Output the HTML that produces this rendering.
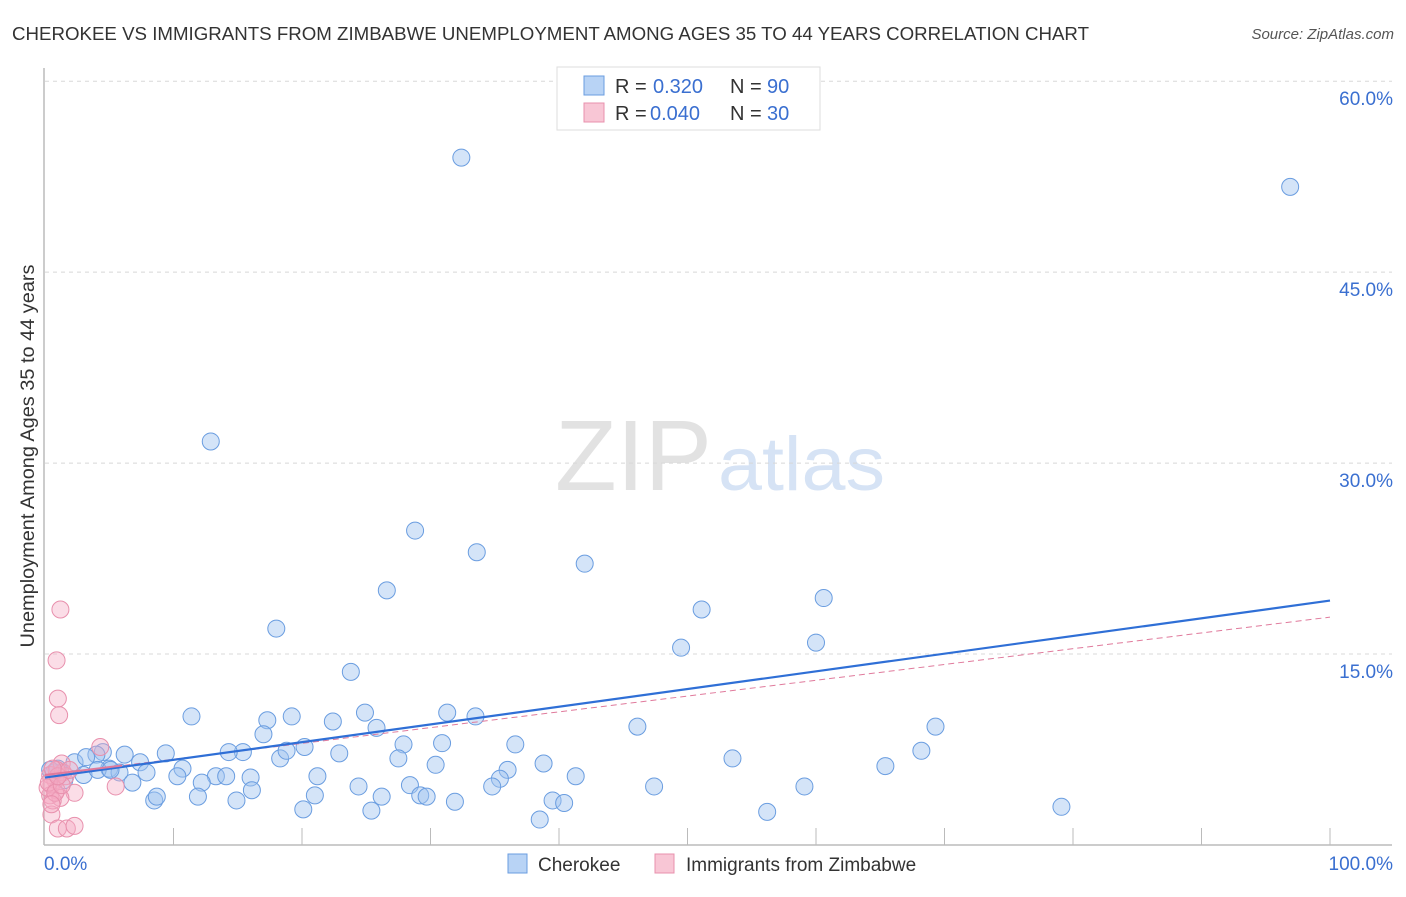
<!DOCTYPE html>
<html><head><meta charset="utf-8"><style>
body{margin:0;background:#fff;font-family:"Liberation Sans",sans-serif;}
svg text{font-family:"Liberation Sans",sans-serif;}
</style></head><body>
<svg width="1406" height="892" xmlns="http://www.w3.org/2000/svg">
<text x="12" y="40" font-size="18.5" fill="#333" textLength="1077" lengthAdjust="spacingAndGlyphs">CHEROKEE VS IMMIGRANTS FROM ZIMBABWE UNEMPLOYMENT AMONG AGES 35 TO 44 YEARS CORRELATION CHART</text>
<text x="1394" y="39" font-size="15" fill="#555" font-style="italic" text-anchor="end">Source: ZipAtlas.com</text>
<g>
<text x="555" y="490" font-size="100" fill="#e2e2e2" font-family="Liberation Serif" textLength="157" lengthAdjust="spacingAndGlyphs">ZIP</text>
<text x="718" y="490" font-size="76" fill="#d6e3f5" textLength="167" lengthAdjust="spacingAndGlyphs">atlas</text>
</g>
<g id="grid"></g>
<g id="axes"></g>
<g id="pts"></g>
<g id="trend"></g>
<text transform="translate(34,456) rotate(-90)" font-size="19" fill="#333" text-anchor="middle" textLength="383" lengthAdjust="spacingAndGlyphs">Unemployment Among Ages 35 to 44 years</text>
<g>
<rect x="557" y="67" width="263" height="63" fill="#fff" stroke="#ddd"/>
<rect x="584" y="76" width="20" height="19" fill="#b8d3f5" stroke="#6a9de0"/>
<text x="615" y="93" font-size="20" fill="#333">R =</text>
<text x="653" y="93" font-size="20" fill="#3a6fd0">0.320</text>
<text x="730" y="93" font-size="20" fill="#333">N =</text>
<text x="767" y="93" font-size="20" fill="#3a6fd0">90</text>
<rect x="584" y="103" width="20" height="19" fill="#f8c6d5" stroke="#e890ad"/>
<text x="615" y="120" font-size="20" fill="#333">R =</text>
<text x="650" y="120" font-size="20" fill="#3a6fd0">0.040</text>
<text x="730" y="120" font-size="20" fill="#333">N =</text>
<text x="767" y="120" font-size="20" fill="#3a6fd0">30</text>
</g>
<g>
<rect x="508" y="854" width="19" height="19" fill="#b8d3f5" stroke="#6a9de0"/>
<text x="538" y="871" font-size="19" fill="#333">Cherokee</text>
<rect x="655" y="854" width="19" height="19" fill="#f8c6d5" stroke="#e890ad"/>
<text x="686" y="871" font-size="19" fill="#333">Immigrants from Zimbabwe</text>
</g>
<script>
const yTicks=[15,30,45,60];
const yTickLabels=["15.0%","30.0%","45.0%","60.0%"];
const xTickCount=10;
const blueX=[32.4,96.9,12.9,28.8,33.6,42.0,26.6,51.1,60.6,18.0,49.5,60.0,23.8,11.4,17.3,19.2,22.4,24.9,31.3,33.5,25.8,46.1,69.3,17.0,27.9,30.9,36.6,68.2,15.4,9.4,14.3,20.2,22.9,6.2,4.5,4.0,2.3,3.2,7.4,18.3,18.8,27.5,30.4,38.8,53.5,65.4,5.0,5.8,7.9,10.7,10.3,13.3,14.1,16.0,21.2,36.0,41.3,35.4,6.8,12.2,28.4,24.4,34.8,47.4,59.1,16.1,3.0,4.1,1.2,0.7,26.2,21.0,29.2,29.7,11.9,8.5,8.7,14.9,31.9,39.5,40.4,20.1,25.4,79.1,56.2,38.5,1.5,1.0,5.1,0.4];
const blueY=[54.0,51.7,31.7,24.7,23.0,22.1,20.0,18.5,19.4,17.0,15.5,15.9,13.6,10.1,9.8,10.1,9.7,10.4,10.4,10.1,9.2,9.3,9.3,8.7,7.9,8.0,7.9,7.4,7.3,7.2,7.3,7.7,7.2,7.1,7.3,7.1,6.5,6.9,6.5,6.8,7.4,6.8,6.3,6.4,6.8,6.2,6.0,5.7,5.7,6.0,5.4,5.4,5.4,5.3,5.4,5.9,5.4,5.2,4.9,4.9,4.7,4.6,4.6,4.6,4.6,4.3,5.5,5.9,5.7,5.7,3.8,3.9,3.9,3.8,3.8,3.5,3.8,3.5,3.4,3.5,3.3,2.8,2.7,3.0,2.6,2.0,5.1,6.0,5.9,5.9];
const pinkX=[1.2,0.9,1.0,1.1,4.3,1.3,5.5,2.3,0.5,1.0,1.7,2.3,0.4,0.8,0.5,0.9,0.4,1.2,0.6,0.2,1.4,1.6,0.9,0.3,0.8,1.3,0.5,1.0,1.9,0.6];
const pinkY=[18.5,14.5,11.5,10.2,7.7,6.4,4.6,4.1,2.4,1.3,1.3,1.5,5.5,5.1,4.7,4.3,3.9,3.7,3.5,4.5,5.7,5.4,5.9,4.9,4.1,4.7,3.2,5.4,5.9,6.0];
const blueTrend=[5.3,19.2];
const pinkTrend=[5.5,17.9];
const X=v=>45+v*12.85, Y=v=>845-v*12.73;
const NS="http://www.w3.org/2000/svg";
function mk(t,a,p){const e=document.createElementNS(NS,t);for(const k in a)e.setAttribute(k,a[k]);p.appendChild(e);return e;}
const grid=document.getElementById('grid'),axes=document.getElementById('axes'),pts=document.getElementById('pts'),tr=document.getElementById('trend');
yTicks.forEach((t,i)=>{
 const l=mk('line',{x1:45,x2:1392,y1:Y(t),y2:Y(t),stroke:'#d8d8d8','stroke-dasharray':'4,4'},grid);
 
 
 const tx=mk('text',{x:1393,y:Y(t)+24,'font-size':19,fill:'#3a6fd0','text-anchor':'end'},axes);
 tx.textContent=yTickLabels[i];
 
 
});
const ax=mk('line',{x1:44,x2:1392,y1:845,y2:845,stroke:'#bbb','stroke-width':1.5},axes);


const ay=mk('line',{x1:44,x2:44,y1:68,y2:845,stroke:'#bbb','stroke-width':1.5},axes);


for(let k=1;k<=xTickCount;k++){const tk=mk('line',{x1:X(k*10),x2:X(k*10),y1:828,y2:845,stroke:'#bbb'},axes);
 
 }
const x0=mk('text',{x:44,y:870,'font-size':19,fill:'#3a6fd0'},axes);x0.textContent='0.0%';


const x1=mk('text',{x:1393,y:870,'font-size':19,fill:'#3a6fd0','text-anchor':'end'},axes);x1.textContent='100.0%';


blueX.forEach((v,i)=>{const c=mk('circle',{cx:X(v),cy:Y(blueY[i]),r:8.5,fill:'rgba(160,195,240,0.45)',stroke:'#6a9de0','stroke-width':1},pts);
 
 });
pinkX.forEach((v,i)=>{const c=mk('circle',{cx:X(v),cy:Y(pinkY[i]),r:8.5,fill:'rgba(245,170,195,0.4)',stroke:'#e890ad','stroke-width':1},pts);
 
 });
const pd=mk('line',{x1:X(0),y1:Y(pinkTrend[0]),x2:X(100),y2:Y(pinkTrend[1]),stroke:'#e07a9c','stroke-width':1,'stroke-dasharray':'6,4'},tr);


const bl=mk('line',{x1:X(0),y1:Y(blueTrend[0]),x2:X(100),y2:Y(blueTrend[1]),stroke:'#2f6fd6','stroke-width':2.2},tr);


const ps=mk('line',{x1:X(0),y1:Y(pinkTrend[0]),x2:X(6),y2:Y(pinkTrend[0]+(pinkTrend[1]-pinkTrend[0])*0.06),stroke:'#e07a9c','stroke-width':2},tr);


</script>
</svg>
</body></html>
